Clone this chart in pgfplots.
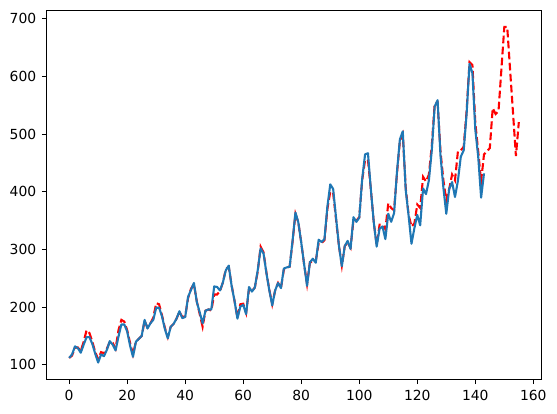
\documentclass[border=0pt]{standalone}
\usepackage{fontspec}
\setmainfont{DejaVu Sans}
\usepackage{pgfplots}
\pgfplotsset{compat=1.18}
\usetikzlibrary{calc}
\definecolor{mplblue}{RGB}{31,119,180}
\begin{document}
\begin{tikzpicture}
\begin{axis}[
  width=356pt, height=265.7pt, scale only axis,
  xmin=-7.75, xmax=162.75, ymin=74.9, ymax=715.1,
  xtick={0,20,...,160}, ytick={100,200,...,700},
  tick align=outside, tick pos=left,
  major tick length=3.5pt,
  every tick/.style={black, line width=0.8pt},
  axis line style={line width=0.8pt},
  tick label style={font=\fontsize{10}{12}\selectfont},
  /pgf/number format/assume math mode=true,
  xticklabel style={yshift=-0.5pt},
  yticklabel style={xshift=-0.5pt},
]
\coordinate (bl) at (rel axis cs:0,0);
\coordinate (tr) at (rel axis cs:1,1);
\addplot[red, line width=1.5pt, dash pattern=on 5.55pt off 2.4pt] coordinates {
(0,112)(1,116)(2,130)(3,130)(4,124)(5,140)(6,160)(7,155)(8,140)(9,122)(10,110)(11,122)
(12,120)(13,128)(14,140)(15,138)(16,128)(17,160)(18,178)(19,175)(20,160)(21,138)(22,118)(23,140)
(24,145)(25,150)(26,176)(27,165)(28,172)(29,182)(30,207)(31,205)(32,186)(33,164)(34,148)(35,166)
(36,171)(37,180)(38,192)(39,183)(40,184)(41,216)(42,232)(43,240)(44,210)(45,188)(46,166)(47,194)
(48,196)(49,194)(50,222)(51,222)(52,228)(53,243)(54,266)(55,270)(56,238)(57,211)(58,182)(59,205)
(60,206)(61,190)(62,232)(63,228)(64,234)(65,262)(66,305)(67,295)(68,260)(69,230)(70,205)(71,229)
(72,242)(73,233)(74,265)(75,269)(76,270)(77,313)(78,362)(79,347)(80,312)(81,274)(82,240)(83,278)
(84,278)(85,280)(86,311)(87,311)(88,316)(89,370)(90,400)(91,398)(92,352)(93,306)(94,272)(95,306)
(96,312)(97,303)(98,351)(99,350)(100,356)(101,420)(102,455)(103,455)(104,404)(105,347)(106,308)(107,343)
(108,343)(109,335)(110,380)(111,372)(112,368)(113,432)(114,488)(115,500)(116,408)(117,360)(118,340)(119,345)
(120,378)(121,372)(122,426)(123,418)(124,430)(125,480)(126,553)(127,555)(128,470)(129,420)(130,385)(131,405)
(132,430)(133,420)(134,470)(135,472)(136,478)(137,540)(138,625)(139,620)(140,520)(141,470)(142,418)(143,465)
(144,470)(145,476)(146,545)(147,535)(148,540)(149,613)(150,686)(151,686)(152,611)(153,537)(154,462)(155,521)
};
\addplot[mplblue, line width=1.5pt, line join=round] coordinates {
(0,112)(1,118)(2,132)(3,129)(4,121)(5,135)(6,148)(7,148)(8,136)(9,119)(10,104)(11,118)
(12,115)(13,126)(14,141)(15,135)(16,125)(17,149)(18,170)(19,170)(20,158)(21,133)(22,114)(23,140)
(24,145)(25,150)(26,178)(27,163)(28,172)(29,178)(30,199)(31,199)(32,184)(33,162)(34,146)(35,166)
(36,171)(37,180)(38,193)(39,181)(40,183)(41,218)(42,230)(43,242)(44,209)(45,191)(46,172)(47,194)
(48,196)(49,196)(50,236)(51,235)(52,229)(53,243)(54,264)(55,272)(56,237)(57,211)(58,180)(59,201)
(60,204)(61,188)(62,235)(63,227)(64,234)(65,264)(66,302)(67,293)(68,259)(69,229)(70,203)(71,229)
(72,242)(73,233)(74,267)(75,269)(76,270)(77,315)(78,364)(79,347)(80,312)(81,274)(82,237)(83,278)
(84,284)(85,277)(86,317)(87,313)(88,318)(89,374)(90,413)(91,405)(92,355)(93,306)(94,271)(95,306)
(96,315)(97,301)(98,356)(99,348)(100,355)(101,422)(102,465)(103,467)(104,404)(105,347)(106,305)(107,336)
(108,340)(109,318)(110,362)(111,348)(112,363)(113,435)(114,491)(115,505)(116,404)(117,359)(118,310)(119,337)
(120,360)(121,342)(122,406)(123,396)(124,420)(125,472)(126,548)(127,559)(128,463)(129,407)(130,362)(131,405)
(132,417)(133,391)(134,419)(135,461)(136,472)(137,535)(138,622)(139,606)(140,508)(141,461)(142,390)(143,432)
};
\end{axis}
\pgfresetboundingbox
\path ($(bl)+(-33.6pt,-24.3pt)$) rectangle ($(tr)+(11.3pt,7.3pt)$);
\end{tikzpicture}
\end{document}
